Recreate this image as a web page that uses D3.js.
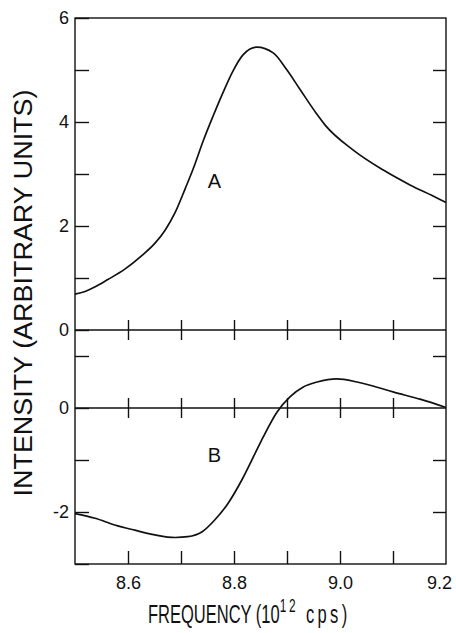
<!DOCTYPE html>
<html>
<head>
<meta charset="utf-8">
<script src="https://cdn.jsdelivr.net/npm/d3@7"></script>
<style>
  html, body { margin: 0; padding: 0; background: #fff; }
  svg { display: block; }
  text { font-family: "Liberation Sans", Arial, Helvetica, sans-serif; fill: #111; }
</style>
</head>
<body>
<svg id="chart" width="456" height="633"></svg>
<script>
// ---- data ----
const freqA = [8.500, 8.519, 8.538, 8.562, 8.594, 8.626, 8.651, 8.670, 8.689, 8.708, 8.723, 8.742, 8.760, 8.779, 8.798, 8.817, 8.843, 8.874, 8.900, 8.925, 8.955, 8.972, 9.025, 9.081, 9.132, 9.183, 9.200];
const intensityA = [0.69, 0.74, 0.83, 0.97, 1.17, 1.43, 1.67, 1.92, 2.26, 2.72, 3.10, 3.64, 4.10, 4.56, 4.98, 5.29, 5.44, 5.33, 5.00, 4.62, 4.17, 3.94, 3.46, 3.08, 2.79, 2.54, 2.45];

const freqB = [8.500, 8.538, 8.575, 8.613, 8.651, 8.689, 8.713, 8.740, 8.764, 8.789, 8.815, 8.840, 8.855, 8.881, 8.906, 8.930, 8.957, 8.994, 9.032, 9.070, 9.100, 9.151, 9.200];
const intensityB = [-2.03, -2.12, -2.25, -2.35, -2.44, -2.49, -2.475, -2.38, -2.15, -1.83, -1.38, -0.87, -0.56, -0.08, 0.22, 0.40, 0.50, 0.56, 0.50, 0.40, 0.31, 0.17, 0.01];

const xTickLabels = [8.6, 8.8, 9.0, 9.2];
const xMinorTicks = [8.6, 8.7, 8.8, 8.9, 9.0, 9.1];
const topYTicks = [0, 1, 2, 3, 4, 5, 6];
const topYLabels = [0, 2, 4, 6];
const botYTicks = [-3, -2, -1, 0, 1];
const botYLabels = [0, -2];
const curveLabels = ["A", "B"];
const xTitle = ["FREQUENCY (10", "12", " cps)"];
const yTitle = "INTENSITY  (ARBITRARY  UNITS)";

// ---- layout ----
const svg = d3.select("#chart");
const L = 75, R = 446, T = 18, MID = 330, B = 564;
const x = d3.scaleLinear().domain([8.5, 9.2]).range([L, R]);
const yTop = d3.scaleLinear().domain([0, 6]).range([MID, T]);
const yBot = d3.scaleLinear().domain([-3, 1.5]).range([B, MID]);
const ink = "#111";
const FONT = '"Liberation Sans", Arial, sans-serif';

function styleAxis(g) {
  g.selectAll("path.domain").remove();
  g.selectAll("line").attr("stroke", ink).attr("stroke-width", 1.4);
}

// frame
svg.append("rect").attr("x", L).attr("y", T).attr("width", R - L).attr("height", B - T)
  .attr("fill", "none").attr("stroke", ink).attr("stroke-width", 1.4);
// zero lines with crossing ticks
[yTop(0), yBot(0)].forEach(yy => {
  svg.append("line").attr("x1", L).attr("x2", R).attr("y1", yy).attr("y2", yy)
    .attr("stroke", ink).attr("stroke-width", 1.4);
  svg.append("g").attr("transform", `translate(0,${yy})`)
    .call(d3.axisBottom(x).tickValues(xMinorTicks).tickSize(10).tickFormat("")).call(styleAxis);
  svg.append("g").attr("transform", `translate(0,${yy})`)
    .call(d3.axisTop(x).tickValues(xMinorTicks).tickSize(10).tickFormat("")).call(styleAxis);
});

// bottom axis: inward ticks + labels
svg.append("g").attr("transform", `translate(0,${B})`)
  .call(d3.axisTop(x).tickValues(xMinorTicks).tickSize(13).tickFormat("")).call(styleAxis);
const xl = svg.append("g").attr("transform", `translate(0,${B})`)
  .call(d3.axisBottom(x).tickValues(xTickLabels).tickSize(0).tickPadding(12).tickFormat(d3.format(".1f")));
xl.call(styleAxis);
xl.selectAll("text").attr("font-size", 18).attr("fill", ink).style("font-family", FONT);
xl.selectAll(".tick").filter(d => d === 9.2).select("text").attr("x", -7);

// left axes (ticks inward)
function leftAxis(scale, ticks, labels) {
  const g = svg.append("g").attr("transform", `translate(${L},0)`)
    .call(d3.axisLeft(scale).tickValues(ticks).tickSize(-14).tickPadding(6)
      .tickFormat(d => labels.includes(d) ? String(d) : ""));
  g.call(styleAxis);
  g.selectAll("text").attr("font-size", 18).attr("fill", ink).style("font-family", FONT);
}
leftAxis(yTop, topYTicks, topYLabels);
leftAxis(yBot, botYTicks, botYLabels);

// right axes (ticks inward)
function rightAxis(scale, ticks) {
  svg.append("g").attr("transform", `translate(${R},0)`)
    .call(d3.axisRight(scale).tickValues(ticks).tickSize(-13).tickFormat("")).call(styleAxis);
}
rightAxis(yTop, topYTicks.filter(d => d > 0 && d < 6));
rightAxis(yBot, botYTicks.filter(d => d > -3 && d !== 0));

// curves
const lineA = d3.line().x((d, i) => x(freqA[i])).y(d => yTop(d)).curve(d3.curveMonotoneX);
const lineB = d3.line().x((d, i) => x(freqB[i])).y(d => yBot(d)).curve(d3.curveMonotoneX);
svg.append("path").attr("d", lineA(intensityA)).attr("fill", "none").attr("stroke", ink).attr("stroke-width", 1.7);
svg.append("path").attr("d", lineB(intensityB)).attr("fill", "none").attr("stroke", ink).attr("stroke-width", 1.7);

// curve labels
svg.append("text").attr("x", x(8.763)).attr("y", yTop(2.73)).attr("text-anchor", "middle")
  .attr("font-size", 20).text(curveLabels[0]);
svg.append("text").attr("x", x(8.763)).attr("y", yBot(-1.04)).attr("text-anchor", "middle")
  .attr("font-size", 20).text(curveLabels[1]);

// y title
svg.append("text").attr("transform", "translate(32,293) rotate(-90)")
  .attr("text-anchor", "middle").attr("font-size", 25)
  .attr("textLength", 407).attr("lengthAdjust", "spacingAndGlyphs")
  .text(yTitle);

// x title: one text, horizontally condensed, exponent as superscript
const xt = svg.append("text").attr("transform", "translate(148,623) scale(0.66,1)")
  .attr("font-size", 25);
xt.append("tspan").text(xTitle[0]);
xt.append("tspan").attr("dy", -11).attr("font-size", 18).attr("letter-spacing", 4).text(xTitle[1]);
xt.append("tspan").attr("dy", 11).attr("letter-spacing", 5).text(xTitle[2]);
</script>
</body>
</html>
